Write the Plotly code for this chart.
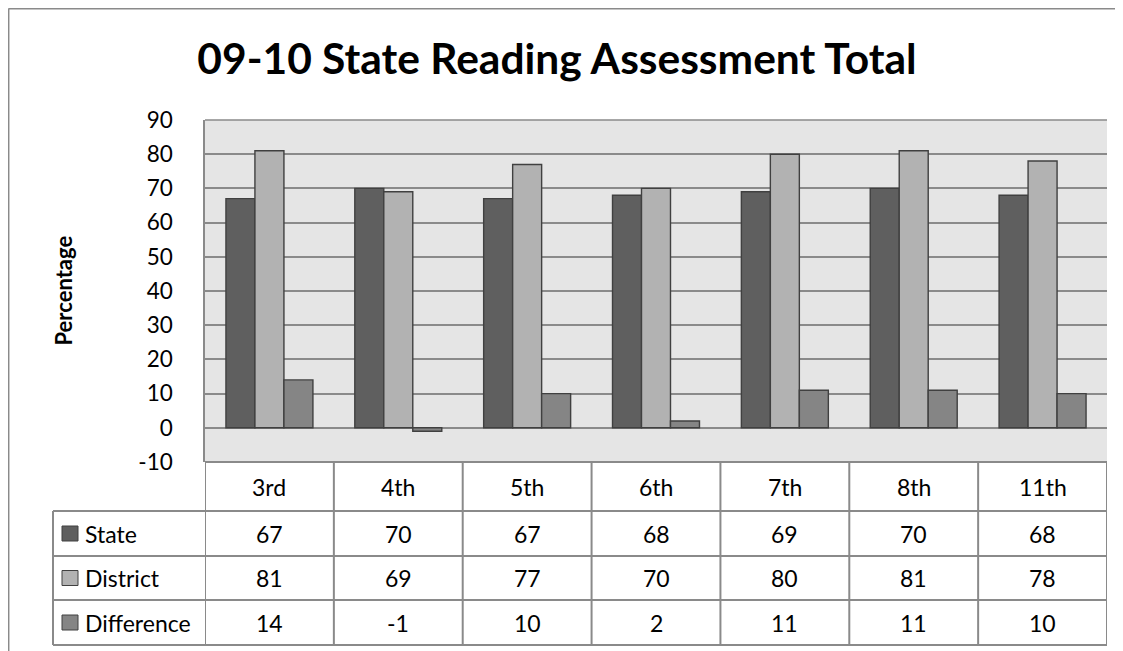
import plotly.graph_objects as go

# ---- data ----
grades = ["3rd", "4th", "5th", "6th", "7th", "8th", "11th"]
state = [67, 70, 67, 68, 69, 70, 68]
district = [81, 69, 77, 70, 80, 81, 78]
difference = [14, -1, 10, 2, 11, 11, 10]
series_names = ["State", "District", "Difference"]
series_colors = ["#5f5f5f", "#b2b2b2", "#858585"]
y_ticks = list(range(-10, 91, 10))
y_tick_labels = [str(v) for v in y_ticks]
title_text = "09-10 State Reading Assessment Total"
y_title = "Percentage"

# ---- geometry (page pixels; page body has an 8px margin) ----
OFF = 8
W, H = 1123 - OFF, 651 - OFF
L, R, T, B = 205, 1107, 120, 462
FONT = "Lato"
GRID = "#8a8a8a"
EDGE = "#404040"


def px(x):
    return (x - L) / (R - L)


def py(y):
    return (B - y) / (B - T)


fig = go.Figure()
series_values = [state, district, difference]
for name, vals, col in zip(series_names, series_values, series_colors):
    fig.add_bar(x=grades, y=vals, name=name,
                marker=dict(color=col, line=dict(color=EDGE, width=1.4)))

fig.update_layout(
    width=W, height=H, autosize=False,
    margin=dict(l=L - OFF, r=W - (R - OFF), t=T - OFF, b=H - (B - OFF), pad=0),
    paper_bgcolor="white", plot_bgcolor="#e5e5e5",
    barmode="group", bargap=0.325, bargroupgap=0, showlegend=False,
    font=dict(family=FONT, color="black"),
    title=dict(text="<b>" + title_text + "</b>", x=(557 - OFF) / W, xanchor="center",
               y=1 - (59 - OFF) / H, yanchor="middle", font=dict(size=42.5, family=FONT)),
)
fig.update_yaxes(range=[-10, 90], tickvals=y_ticks, ticktext=y_tick_labels,
                 showgrid=True, gridcolor=GRID,
                 gridwidth=1.5, zeroline=False, showline=True, linecolor=GRID,
                 linewidth=1.5, ticks="", ticklabelstandoff=26,
                 tickfont=dict(size=22.5, family=FONT))
fig.update_xaxes(showticklabels=False, showgrid=False, zeroline=False,
                 showline=False, range=[-0.5, len(grades) - 0.5])

shapes = []
# top gridline of plot area
shapes.append(dict(type="line", xref="paper", yref="paper", x0=0, x1=1, y0=1, y1=1,
                   line=dict(color=GRID, width=1.5)))
# outer chart border (top and left visible)
shapes.append(dict(type="line", xref="paper", yref="paper", x0=px(8.5), x1=px(1130),
                   y0=py(8.7), y1=py(8.7), line=dict(color=GRID, width=1.5)))
shapes.append(dict(type="line", xref="paper", yref="paper", x0=px(8.7), x1=px(8.7),
                   y0=py(8.5), y1=py(660), line=dict(color=GRID, width=1.5)))

# data table
row_lines = [462, 511, 556, 600, 645]
left_px = 53
shapes.append(dict(type="line", xref="paper", yref="paper", x0=0, x1=1,
                   y0=py(row_lines[0]), y1=py(row_lines[0]), line=dict(color=GRID, width=2)))
for yl in row_lines[1:]:
    shapes.append(dict(type="line", xref="paper", yref="paper", x0=px(left_px), x1=1,
                       y0=py(yl), y1=py(yl), line=dict(color=GRID, width=2)))
for i in range(len(grades) + 1):
    shapes.append(dict(type="line", xref="x", yref="paper", x0=i - 0.5, x1=i - 0.5,
                       y0=py(row_lines[0]), y1=py(row_lines[-1]),
                       line=dict(color=GRID, width=2)))
shapes.append(dict(type="line", xref="paper", yref="paper", x0=px(left_px), x1=px(left_px),
                   y0=py(row_lines[1]), y1=py(row_lines[-1]), line=dict(color=GRID, width=2)))

annotations = []
TF = dict(size=23, family=FONT, color="black")
hdr_c = (row_lines[0] + row_lines[1]) / 2
for i, g in enumerate(grades):
    annotations.append(dict(x=i, y=py(hdr_c), xref="x", yref="paper", text=g,
                            showarrow=False, font=TF, xanchor="center", yanchor="middle"))
for r, (name, vals, col) in enumerate(zip(series_names, series_values, series_colors)):
    yc = (row_lines[r + 1] + row_lines[r + 2]) / 2
    for i, v in enumerate(vals):
        annotations.append(dict(x=i, y=py(yc), xref="x", yref="paper", text=str(v),
                                showarrow=False, font=TF, xanchor="center", yanchor="middle"))
    shapes.append(dict(type="rect", xref="paper", yref="paper", x0=px(62), x1=px(78),
                       y0=py(yc - 7.5), y1=py(yc + 7.5), fillcolor=col,
                       line=dict(color=EDGE, width=1)))
    annotations.append(dict(x=px(83), y=py(yc), xref="paper", yref="paper", text=name,
                            showarrow=False, font=TF, xanchor="left", yanchor="middle"))

annotations.append(dict(x=px(62.5), y=py(291), xref="paper", yref="paper",
                        text="<b>" + y_title + "</b>", textangle=-90, showarrow=False,
                        font=dict(size=22, family=FONT, color="black"),
                        xanchor="center", yanchor="middle"))

fig.update_layout(shapes=shapes, annotations=annotations)
fig.write_html("out.html")
